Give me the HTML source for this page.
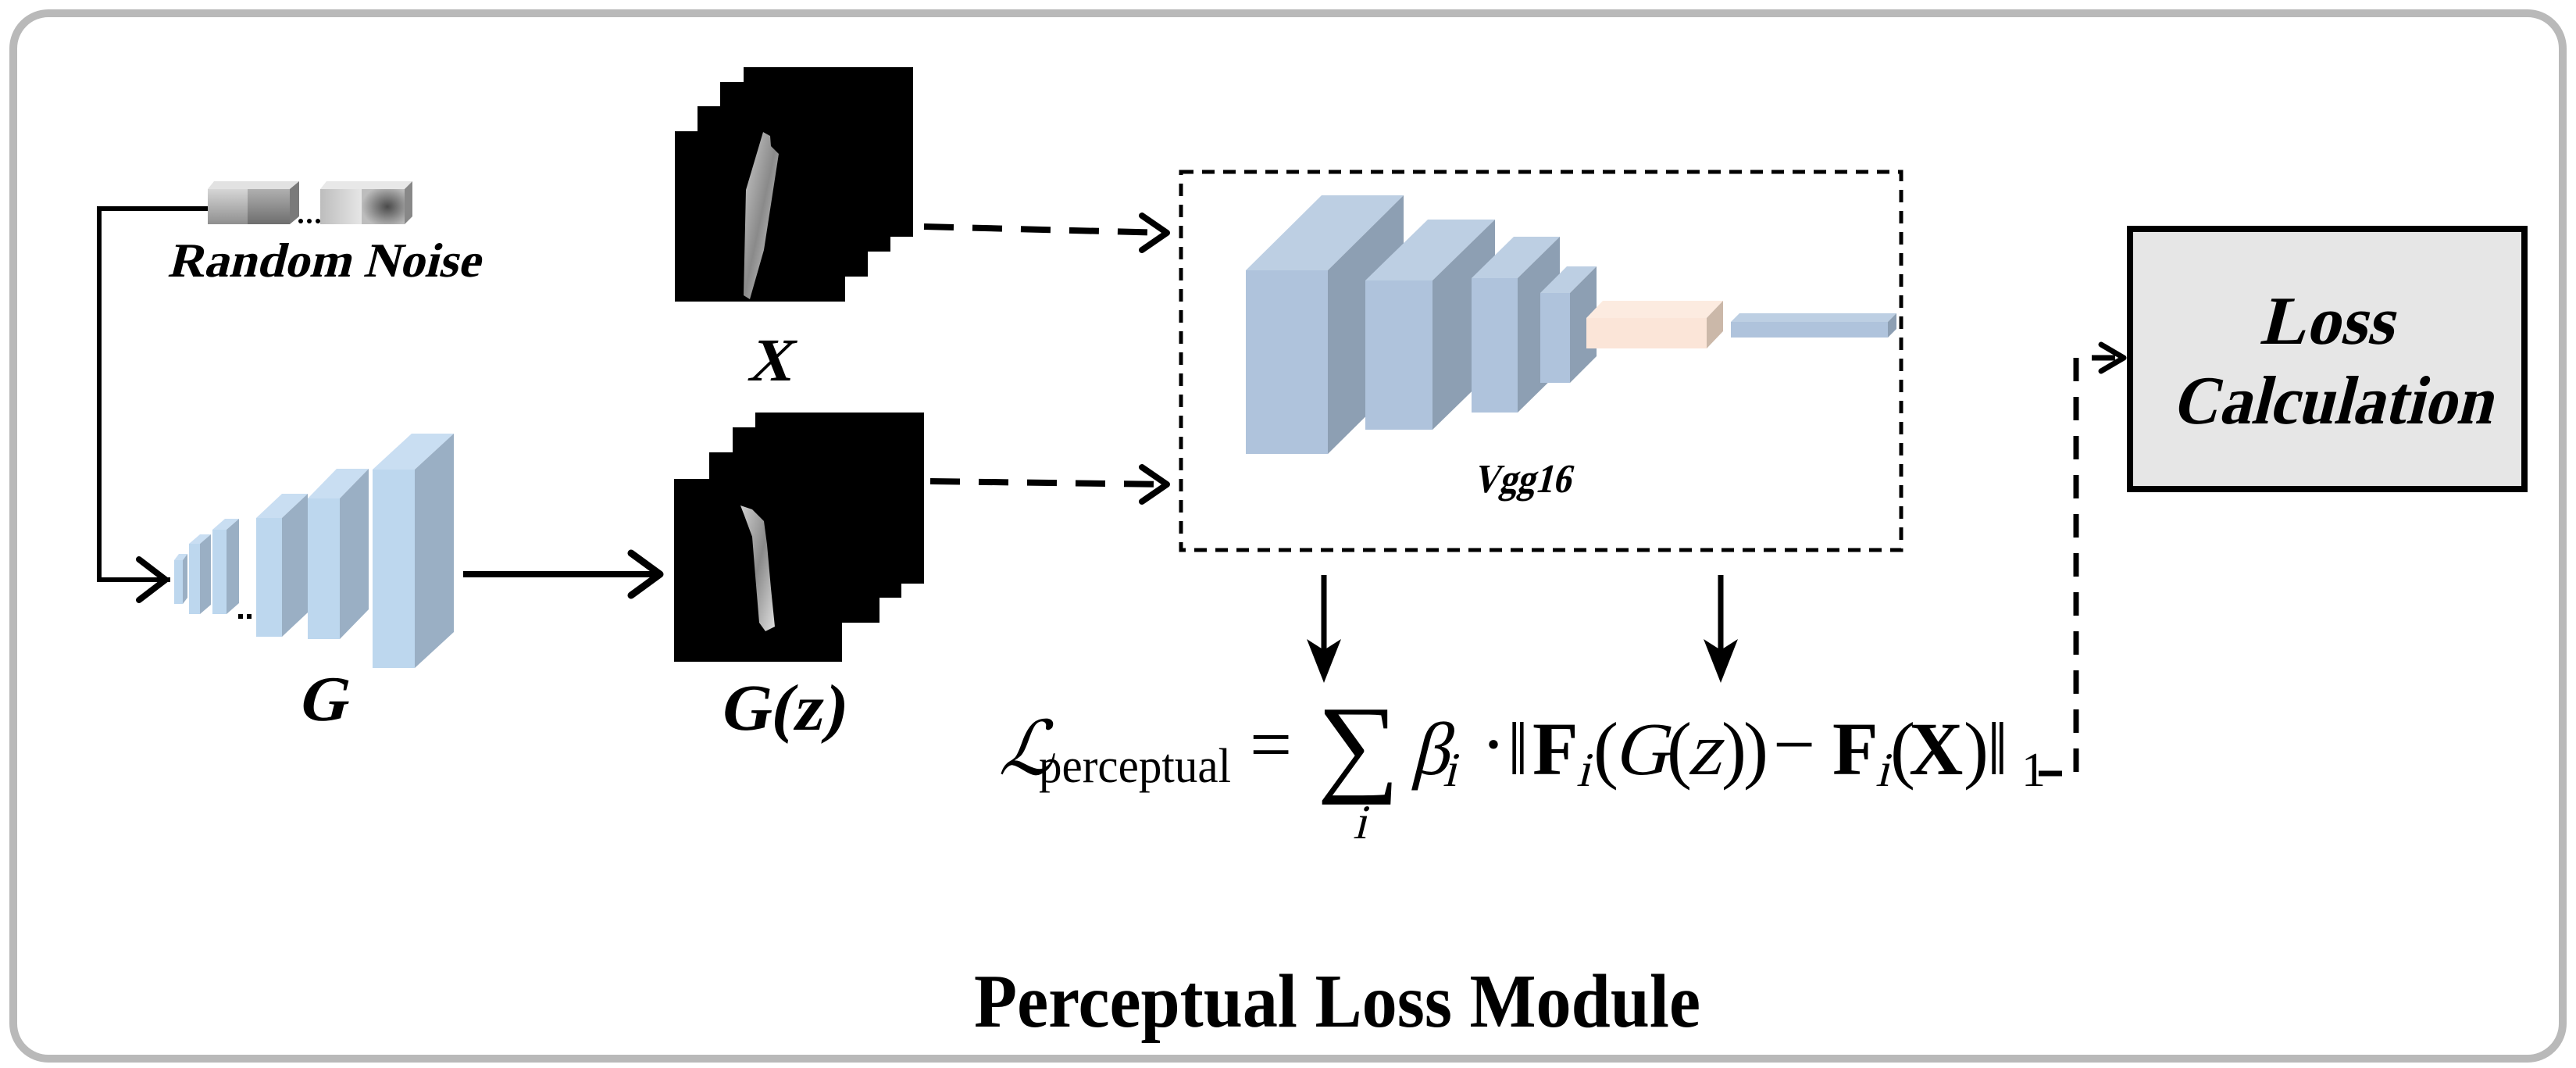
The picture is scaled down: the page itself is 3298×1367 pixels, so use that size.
<!DOCTYPE html>
<html><head><meta charset="utf-8"><style>
html,body{margin:0;padding:0;background:#fff;}
svg{display:block;}
text{font-family:"Liberation Serif",serif;}
</style></head><body>
<svg width="3298" height="1367" viewBox="0 0 3298 1367" xmlns="http://www.w3.org/2000/svg">
<defs>
<linearGradient id="c1" x1="0" y1="0" x2="0" y2="1"><stop offset="0" stop-color="#d6d6d6"/><stop offset="1" stop-color="#8f8f8f"/></linearGradient>
<linearGradient id="c2" x1="0" y1="0" x2="0" y2="1"><stop offset="0" stop-color="#b0b0b0"/><stop offset="1" stop-color="#6e6e6e"/></linearGradient>
<linearGradient id="c3" x1="0" y1="0" x2="1" y2="0"><stop offset="0" stop-color="#bdbdbd"/><stop offset="1" stop-color="#e6e6e6"/></linearGradient>
<radialGradient id="c4" cx="0.6" cy="0.5" r="0.6"><stop offset="0" stop-color="#4a4a4a"/><stop offset="1" stop-color="#bdbdbd"/></radialGradient>
<linearGradient id="rock" x1="0" y1="0" x2="1" y2="1"><stop offset="0" stop-color="#cfcfcf"/><stop offset="0.5" stop-color="#8a8a8a"/><stop offset="1" stop-color="#e0e0e0"/></linearGradient>
</defs>
<rect x="0" y="0" width="3298" height="1367" fill="#fff"/>
<rect x="17" y="17" width="3264" height="1338" rx="45" ry="45" fill="none" stroke="#b9b9b9" stroke-width="10"/>

<!-- Random noise cubes -->
<polygon points="266,242 274,232 383,232 371,242" fill="#e2e2e2"/>
<rect x="266" y="242" width="51" height="45" fill="url(#c1)"/>
<rect x="317" y="242" width="54" height="45" fill="url(#c2)"/>
<polygon points="371,242 383,232 383,277 371,287" fill="#7a7a7a"/>
<circle cx="385" cy="283" r="3" fill="#000"/><circle cx="396" cy="283" r="3" fill="#000"/><circle cx="407" cy="283" r="3" fill="#000"/>
<polygon points="410,242 418,232 528,232 518,242" fill="#e8e8e8"/>
<rect x="410" y="242" width="53" height="45" fill="url(#c3)"/>
<rect x="463" y="242" width="55" height="45" fill="url(#c4)"/>
<polygon points="518,242 528,232 528,277 518,287" fill="#888"/>
<g transform="translate(214,354) skewX(-14)"><text x="0" y="0" font-size="62" font-weight="bold" textLength="400" lengthAdjust="spacingAndGlyphs">Random Noise</text></g>

<!-- noise -> G connector -->
<polyline points="266,267 127,267 127,742 218,742" fill="none" stroke="#000" stroke-width="6"/>
<polyline points="178,716 212,742 178,768" fill="none" stroke="#000" stroke-width="8" stroke-linecap="round" stroke-linejoin="round"/>

<!-- G blocks -->
<g>
<polygon points="223,717 229,709 240,709 234,717" fill="#c9def2"/><rect x="223" y="717" width="11" height="56" fill="#bdd7ee"/><polygon points="234,717 240,709 240,765 234,773" fill="#9aafc4"/>
<polygon points="242,696 256,684 270,684 256,696" fill="#c9def2"/><rect x="242" y="696" width="14" height="90" fill="#bdd7ee"/><polygon points="256,696 270,684 270,774 256,786" fill="#9aafc4"/>
<polygon points="272,678 288,664 306,664 290,678" fill="#c9def2"/><rect x="272" y="678" width="18" height="108" fill="#bdd7ee"/><polygon points="290,678 306,664 306,772 290,786" fill="#9aafc4"/>
<rect x="305" y="786" width="6" height="6" fill="#000"/><rect x="316" y="786" width="6" height="6" fill="#000"/>
<polygon points="328,663 361,632 394,632 361,663" fill="#c9def2"/><rect x="328" y="663" width="33" height="152" fill="#bdd7ee"/><polygon points="361,663 394,632 394,784 361,815" fill="#9aafc4"/>
<polygon points="394,638 431,600 472,600 435,638" fill="#c9def2"/><rect x="394" y="638" width="41" height="180" fill="#bdd7ee"/><polygon points="435,638 472,600 472,780 435,818" fill="#9aafc4"/>
<polygon points="477,601 527,555 581,555 531,601" fill="#c9def2"/><rect x="477" y="601" width="54" height="254" fill="#bdd7ee"/><polygon points="531,601 581,555 581,809 531,855" fill="#9aafc4"/>
</g>
<g transform="translate(411,922) skewX(-14)"><text x="0" y="0" font-size="82" font-weight="bold" text-anchor="middle">G</text></g>

<!-- G -> G(z) arrow -->
<line x1="593" y1="735" x2="845" y2="735" stroke="#000" stroke-width="8"/>
<polyline points="808,708 845,735 808,762" fill="none" stroke="#000" stroke-width="9" stroke-linecap="round" stroke-linejoin="round"/>

<!-- X stack -->
<rect x="952" y="86" width="217" height="217" fill="#000"/>
<rect x="922" y="105" width="218" height="217" fill="#000"/>
<rect x="893" y="136" width="218" height="218" fill="#000"/>
<rect x="864" y="168" width="218" height="218" fill="#000"/>
<polygon points="977,169 986,174 987,187 997,197 978,320 960,383 952,378 955,243" fill="url(#rock)"/>
<g transform="translate(984,487) skewX(-14)"><text x="0" y="0" font-size="78" font-weight="bold" text-anchor="middle">X</text></g>

<!-- G(z) stack -->
<rect x="967" y="528" width="216" height="219" fill="#000"/>
<rect x="938" y="547" width="216" height="218" fill="#000"/>
<rect x="908" y="579" width="218" height="218" fill="#000"/>
<rect x="863" y="613" width="215" height="234" fill="#000"/>
<polygon points="948,647 963,652 978,667 982,697 987,753 992,802 980,808 972,797 967,737 963,687 953,660" fill="url(#rock)"/>
<g transform="translate(1000,934) skewX(-10)"><text x="0" y="0" font-size="84" font-weight="bold" text-anchor="middle" textLength="160" lengthAdjust="spacingAndGlyphs">G(z)</text></g>

<!-- dashed arrows to VGG -->
<line x1="1183" y1="290" x2="1492" y2="298" stroke="#000" stroke-width="8" stroke-dasharray="38 24"/>
<polyline points="1462,276 1494,298 1462,320" fill="none" stroke="#000" stroke-width="8" stroke-linecap="round" stroke-linejoin="round"/>
<line x1="1191" y1="616" x2="1492" y2="620" stroke="#000" stroke-width="8" stroke-dasharray="38 24"/>
<polyline points="1462,598 1494,620 1462,642" fill="none" stroke="#000" stroke-width="8" stroke-linecap="round" stroke-linejoin="round"/>

<!-- VGG dashed box -->
<rect x="1512" y="220" width="922" height="484" fill="none" stroke="#000" stroke-width="5" stroke-dasharray="16 11"/>
<g>
<polygon points="1595,346 1692,250 1797,250 1700,346" fill="#bdcfe3"/><rect x="1595" y="346" width="105" height="235" fill="#afc3dc"/><polygon points="1700,346 1797,250 1797,485 1700,581" fill="#8d9fb3"/>
<polygon points="1748,359 1828,281 1914,281 1834,359" fill="#bdcfe3"/><rect x="1748" y="359" width="86" height="191" fill="#afc3dc"/><polygon points="1834,359 1914,281 1914,472 1834,550" fill="#8d9fb3"/>
<polygon points="1884,356 1938,303 1997,303 1943,356" fill="#bdcfe3"/><rect x="1884" y="356" width="59" height="172" fill="#afc3dc"/><polygon points="1943,356 1997,303 1997,475 1943,528" fill="#8d9fb3"/>
<polygon points="1972,375 2006,341 2044,341 2010,375" fill="#bdcfe3"/><rect x="1972" y="375" width="38" height="115" fill="#afc3dc"/><polygon points="2010,375 2044,341 2044,456 2010,490" fill="#8d9fb3"/>
<polygon points="2031,407 2052,385 2206,385 2185,407" fill="#fcebe0"/><rect x="2031" y="407" width="154" height="39" fill="#fbe5d8"/><polygon points="2185,407 2206,385 2206,424 2185,446" fill="#cbb8a9"/>
<polygon points="2216,412 2227,401 2428,401 2417,412" fill="#bdcfe3"/><rect x="2216" y="412" width="201" height="20" fill="#afc3dc"/><polygon points="2417,412 2428,401 2428,421 2417,432" fill="#8d9fb3"/>
</g>
<g transform="translate(1948,630) skewX(-14)"><text x="0" y="0" font-size="52" font-weight="bold" text-anchor="middle" textLength="125" lengthAdjust="spacingAndGlyphs">Vgg16</text></g>

<!-- down arrows -->
<line x1="1695" y1="736" x2="1695" y2="835" stroke="#000" stroke-width="7"/>
<polygon points="1695,874 1673,818 1695,832 1717,818" fill="#000"/>
<line x1="2203" y1="736" x2="2203" y2="835" stroke="#000" stroke-width="7"/>
<polygon points="2203,874 2181,818 2203,832 2225,818" fill="#000"/>

<!-- formula -->
<g fill="#000">
<g transform="translate(1278,991) skewX(-18)"><text x="0" y="0" font-size="96">ℒ</text></g>
<text x="1330" y="1001" font-size="62" textLength="246" lengthAdjust="spacingAndGlyphs">perceptual</text>
<text x="1600" y="985" font-size="96">=</text>
<text x="1686" y="1000" font-size="140" textLength="106" lengthAdjust="spacingAndGlyphs">∑</text>
<g transform="translate(1732,1073) skewX(-14)"><text x="0" y="0" font-size="62">i</text></g>
<g transform="translate(1806,991) skewX(-14)"><text x="0" y="0" font-size="96">β</text></g>
<g transform="translate(1847,1006) skewX(-14)"><text x="0" y="0" font-size="62">i</text></g>
<text x="1896" y="985" font-size="96">·</text>
<text x="1930" y="991" font-size="96">‖</text>
<text x="1962" y="991" font-size="96" font-weight="bold">F</text>
<g transform="translate(2018,1006) skewX(-14)"><text x="0" y="0" font-size="62">i</text></g>
<text x="2040" y="991" font-size="96">(</text>
<g transform="translate(2066,991) skewX(-14)"><text x="0" y="0" font-size="96">G</text></g>
<text x="2134" y="991" font-size="96">(</text>
<g transform="translate(2160,991) skewX(-14)"><text x="0" y="0" font-size="96">z</text></g>
<text x="2204" y="991" font-size="96">)</text>
<text x="2232" y="991" font-size="96">)</text>
<text x="2270" y="985" font-size="96">−</text>
<text x="2346" y="991" font-size="96" font-weight="bold">F</text>
<g transform="translate(2401,1006) skewX(-14)"><text x="0" y="0" font-size="62">i</text></g>
<text x="2420" y="991" font-size="96">(</text>
<text x="2444" y="991" font-size="96" font-weight="bold">X</text>
<text x="2514" y="991" font-size="96">)</text>
<text x="2544" y="991" font-size="96">‖</text>
<text x="2588" y="1006" font-size="62">1</text>
</g>

<!-- dashed connector to Loss -->
<polyline points="2610,990 2658,990 2658,458 2718,458" fill="none" stroke="#000" stroke-width="7" stroke-dasharray="30 20"/>
<polyline points="2690,441 2719,458 2690,475" fill="none" stroke="#000" stroke-width="7" stroke-linecap="round" stroke-linejoin="round"/>

<!-- Loss box -->
<rect x="2727" y="293" width="505" height="333" fill="#e6e6e6" stroke="#000" stroke-width="8"/>
<g transform="translate(2978,440) skewX(-14)"><text x="0" y="0" font-size="88" font-weight="bold" text-anchor="middle">Loss</text></g>
<g transform="translate(2985,542) skewX(-14)"><text x="0" y="0" font-size="88" font-weight="bold" text-anchor="middle" textLength="410" lengthAdjust="spacingAndGlyphs">Calculation</text></g>

<!-- title -->
<text x="1712" y="1314" font-size="97" font-weight="bold" text-anchor="middle" textLength="930" lengthAdjust="spacingAndGlyphs">Perceptual Loss Module</text>
</svg>
</body></html>
